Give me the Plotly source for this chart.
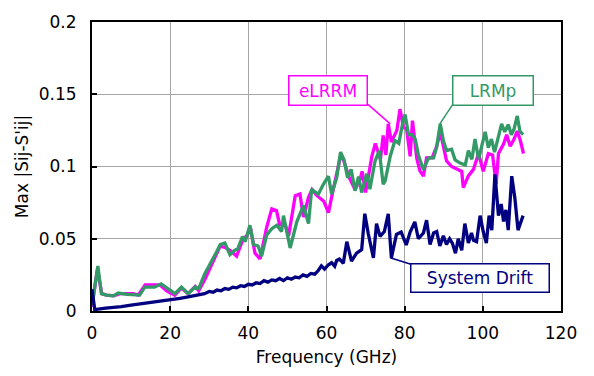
import plotly.graph_objects as go

# eLRRM error bound versus frequency
f_elrrm = [0, 0.5, 1.4, 2.5, 3.7, 5.5, 7.2, 9, 10.6, 11.8, 13.6, 15.7, 17.4, 19.1, 21.2,
           22.9, 24.6, 26.4, 27.3, 28.9, 31.0, 32.8, 34.0, 35.3, 37.0, 38.7, 39.6, 40.6,
           41.7, 43.0, 44.7, 46.0, 47.2, 48.0, 49.5, 50.3, 52.0, 53.2, 54.1, 55.4, 56.3,
           57.5, 59.3, 60.5, 61.4, 62.7, 63.5, 64.3, 65.7, 67.3, 68.6, 69.1, 70.0, 71.6,
           72.5, 73.8, 74.5, 75.2, 75.8, 76.6, 78.0, 78.8, 79.7, 80.5, 81.4, 82.0, 83.1,
           83.9, 84.8, 85.6, 87.0, 88.2, 89.1, 89.9, 90.7, 92.0, 93.3, 94.6, 95.0, 96.3,
           97.6, 98.9, 100.1, 101.4, 102.5, 103.4, 104.0, 105.3, 106.1, 107.0, 108.0,
           108.8, 109.6, 110.4]
v_elrrm = [0.003, 0.012, 0.029, 0.012, 0.011, 0.0105, 0.012, 0.012, 0.012, 0.011, 0.018,
           0.018, 0.018, 0.014, 0.011, 0.016, 0.012, 0.017, 0.014, 0.022, 0.034, 0.045,
           0.044, 0.042, 0.038, 0.050, 0.052, 0.057, 0.040, 0.036, 0.058, 0.0707, 0.0696,
           0.060, 0.059, 0.052, 0.0798, 0.081, 0.065, 0.0787, 0.084, 0.080, 0.076, 0.068,
           0.080, 0.0956, 0.106, 0.105, 0.093, 0.084, 0.091, 0.0967, 0.082, 0.107, 0.116,
           0.105, 0.1215, 0.108, 0.1295, 0.117, 0.125, 0.1397, 0.127, 0.126, 0.107, 0.1317,
           0.1055, 0.097, 0.0933, 0.106, 0.106, 0.114, 0.124, 0.114, 0.104, 0.100, 0.098,
           0.0966, 0.0854, 0.0935, 0.098, 0.109, 0.0966, 0.109, 0.108, 0.0877, 0.109,
           0.1155, 0.122, 0.114, 0.119, 0.1245, 0.118, 0.109]

# LRMp error bound versus frequency
f_lrmp = [0, 0.5, 1.5, 2.4, 3.7, 5.5, 6.7, 9, 10.6, 12.2, 13.5, 16.0, 17.7, 19.5, 21.2,
          22.9, 24.6, 26.3, 27.3, 28.8, 30.2, 31.9, 32.8, 34.0, 35.3, 36.5, 37.3, 38.5,
          39.2, 40.4, 41.3, 42.5, 43.4, 44.7, 46.0, 47.3, 48.5, 49.0, 50.7, 52.4, 54.1,
          55.4, 56.2, 57.9, 59.2, 60.5, 61.3, 62.6, 63.6, 64.5, 65.4, 66.3, 67.3, 68.2,
          69.0, 70.3, 71.1, 72.4, 73.5, 74.5, 75.0, 76.3, 77.5, 78.5, 79.7, 80.1, 81.0,
          81.9, 82.7, 83.5, 84.8, 86.1, 87.4, 88.2, 89.1, 89.9, 90.7, 92.0, 92.9, 94.2,
          95.5, 96.3, 97.2, 98.0, 98.9, 99.7, 100.6, 101.4, 102.2, 103.0, 103.8, 104.8,
          105.6, 106.5, 107.3, 108.0, 108.8, 109.5, 110.3]
v_lrmp = [0.004, 0.012, 0.0312, 0.012, 0.011, 0.0105, 0.0124, 0.0115, 0.0115, 0.011,
          0.0165, 0.0165, 0.0188, 0.0154, 0.012, 0.0165, 0.012, 0.0165, 0.0155, 0.0255,
          0.032, 0.041, 0.046, 0.047, 0.039, 0.042, 0.043, 0.0515, 0.048, 0.0594, 0.046,
          0.045, 0.038, 0.0527, 0.057, 0.0594, 0.055, 0.066, 0.0436, 0.0617, 0.073,
          0.0605, 0.0843, 0.0808, 0.0877, 0.0933, 0.081, 0.0922, 0.110, 0.1045, 0.0922,
          0.098, 0.0832, 0.093, 0.082, 0.095, 0.0843, 0.1035, 0.111, 0.0877, 0.090, 0.107,
          0.118, 0.116, 0.133, 0.136, 0.122, 0.122, 0.119, 0.108, 0.0978, 0.106, 0.106,
          0.1136, 0.1295, 0.118, 0.111, 0.112, 0.1046, 0.1024, 0.101, 0.111, 0.105, 0.119,
          0.105, 0.115, 0.124, 0.113, 0.119, 0.110, 0.1185, 0.1295, 0.124, 0.129, 0.122,
          0.126, 0.135, 0.1244, 0.122]

# System drift versus frequency
f_drift = [0, 0.4, 0.7, 3.5, 5.8, 7.5, 10, 12, 14, 16, 18.3, 20.3, 21, 22.5, 24.6, 26.8,
           28.8, 30, 31, 32, 33, 34, 35, 36, 37, 38, 39, 40, 41, 42, 43, 44, 45, 46, 47,
           48, 49, 50, 51, 52, 53, 54, 55, 56, 57, 57.9, 58.7, 59.5, 60.5, 61.3, 62.1,
           62.6, 63.3, 64.3, 65.2, 66.4, 67.7, 69, 69.8, 70.7, 72, 72.8, 73.7, 74.8, 75.8,
           76.6, 77.9, 79.1, 80.4, 81.4, 82.6, 83.5, 84.8, 85.6, 86.5, 87.4, 88.2, 89,
           89.9, 90.7, 91.5, 92.2, 93, 93.7, 94.6, 95.4, 96.3, 97.1, 97.6, 98.4, 99.3,
           100.1, 100.9, 101.6, 102.3, 103.1, 104, 104.7, 105.3, 105.9, 106.5, 107.4,
           108.2, 109, 110.3]
v_drift = [0.015, 0.004, 0.001, 0.002, 0.0025, 0.003, 0.004, 0.0047, 0.0055, 0.0063,
           0.0072, 0.0079, 0.0078, 0.0088, 0.0097, 0.011, 0.012, 0.0135, 0.013, 0.0145,
           0.014, 0.0155, 0.015, 0.0165, 0.016, 0.0175, 0.017, 0.0185, 0.018, 0.0195,
           0.019, 0.021, 0.020, 0.0215, 0.021, 0.0225, 0.021, 0.023, 0.022, 0.0235, 0.023,
           0.025, 0.024, 0.026, 0.0255, 0.028, 0.0312, 0.029, 0.032, 0.0334, 0.031, 0.035,
           0.036, 0.033, 0.048, 0.0346, 0.040, 0.0425, 0.0673, 0.0533, 0.0368, 0.0605,
           0.0516, 0.055, 0.0673, 0.0368, 0.053, 0.0546, 0.0457, 0.0546, 0.0617, 0.050,
           0.054, 0.0628, 0.046, 0.054, 0.055, 0.045, 0.052, 0.046, 0.050, 0.047, 0.040,
           0.050, 0.042, 0.0605, 0.047, 0.054, 0.049, 0.048, 0.066, 0.055, 0.047, 0.066,
           0.056, 0.0945, 0.066, 0.074, 0.062, 0.070, 0.056, 0.0933, 0.078, 0.056, 0.066,
           0.068]

x_ticks = [0, 20, 40, 60, 80, 100, 120]
y_ticks = [0, 0.05, 0.1, 0.15, 0.2]

MAGENTA = "#FF00FF"
GREEN = "#339966"
NAVY = "#000080"
FONT = "Verdana, DejaVu Sans, sans-serif"

fig = go.Figure()
fig.add_trace(go.Scatter(x=f_elrrm, y=v_elrrm, mode="lines", name="eLRRM",
                         line=dict(color=MAGENTA, width=3.3)))
fig.add_trace(go.Scatter(x=f_lrmp, y=v_lrmp, mode="lines", name="LRMp",
                         line=dict(color=GREEN, width=3.3)))
fig.add_trace(go.Scatter(x=f_drift, y=v_drift, mode="lines", name="System Drift",
                         line=dict(color=NAVY, width=3.3)))

# callout labels: (text, colour, box centre, box size, leader start, leader end)
callouts = [
    ("eLRRM", MAGENTA, (60.5, 0.1525), (80, 31), (70.6, 0.143), (76.3, 0.1295)),
    ("LRMp", GREEN, (102.6, 0.1525), (82, 31), (92.3, 0.143), (89.0, 0.1295)),
    ("System Drift", NAVY, (99.3, 0.0231), (140, 30), (81.4, 0.0325), (76.3, 0.0368)),
]
for text, col, (cx, cy), (w, h), (lx0, ly0), (lx1, ly1) in callouts:
    fig.add_shape(type="line", x0=lx0, y0=ly0, x1=lx1, y1=ly1, xref="x", yref="y",
                  line=dict(color=col, width=1.5))
    fig.add_annotation(x=cx, y=cy, xref="x", yref="y", text=text, showarrow=False,
                       font=dict(family=FONT, size=17, color=col),
                       bgcolor="white", bordercolor=col, borderwidth=1.5, borderpad=0,
                       width=w - 3, height=h - 3, align="center", valign="middle")

axis_common = dict(showline=True, linecolor="black", linewidth=2, mirror=True,
                   showgrid=True, gridcolor="#A6A6A6", gridwidth=1, zeroline=False,
                   ticks="inside", ticklen=5, tickcolor="black", tickwidth=1.5,
                   tickfont=dict(family=FONT, size=17, color="black"))

fig.update_layout(
    width=594, height=376,
    margin=dict(l=92, r=33, t=16, b=65),
    paper_bgcolor="white", plot_bgcolor="white",
    showlegend=False,
    xaxis=dict(range=[0, 120], tickvals=x_ticks,
               title=dict(text="Frequency (GHz)", font=dict(family=FONT, size=17, color="black"),
                          standoff=9),
               ticklabelstandoff=6, **axis_common),
    yaxis=dict(range=[0, 0.2], tickvals=y_ticks, ticktext=["0", "0.05", "0.1", "0.15", "0.2"],
               title=dict(text="Max |Sij-S'ij|", font=dict(family=FONT, size=17, color="black"),
                          standoff=6),
               ticklabelstandoff=10, **axis_common),
)

fig.write_html("out.html")
